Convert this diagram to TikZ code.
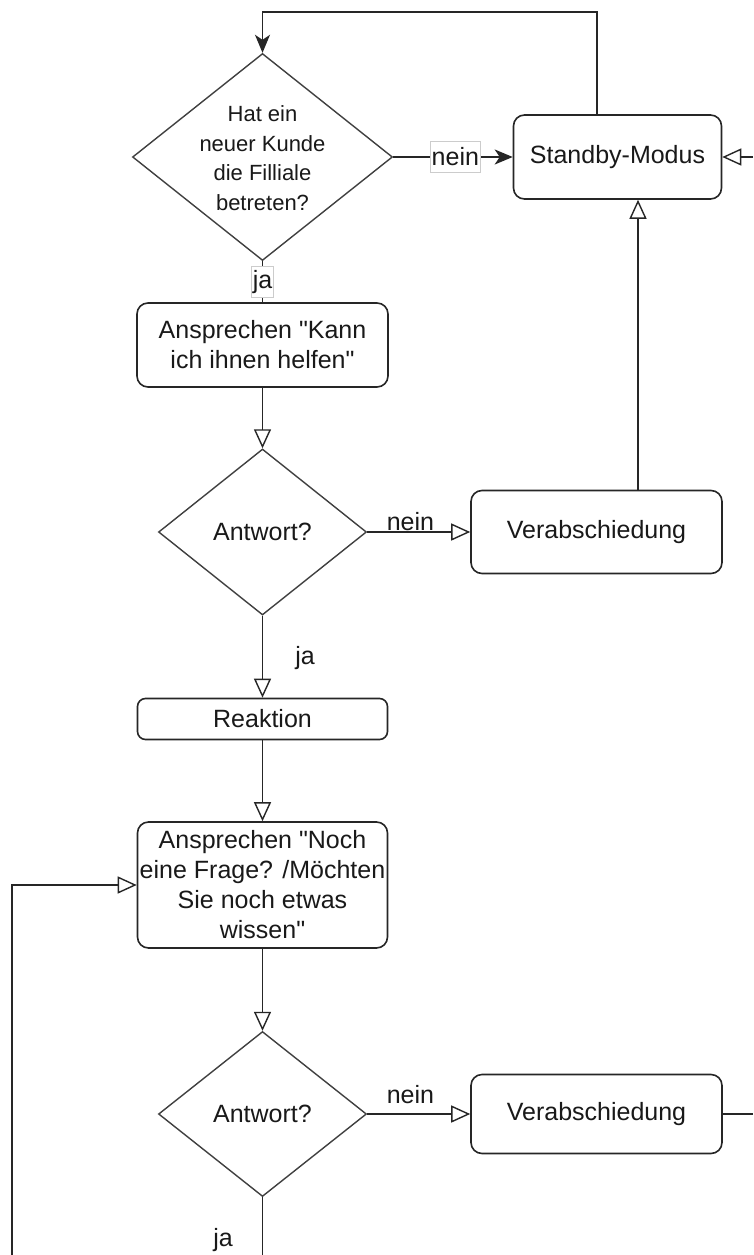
\documentclass[tikz,border=0pt]{standalone}
\usepackage{fontspec}
\setmainfont{Liberation Sans}[Ligatures=TeXOff]
\usetikzlibrary{shapes.geometric,arrows.meta}
\begin{document}
\begin{tikzpicture}[x=1pt,y=-1pt,
  txt/.style={font=\fontsize{25}{30}\selectfont, text=black!90},
  procbox/.style={txt, draw=black!85, line width=1.6pt, rounded corners=11pt, inner sep=0pt, align=center},
  decision/.style={diamond, draw=black!75, line width=1.4pt, inner sep=0pt},
  conn/.style={draw=black!85, line width=1.6pt},
  openarr/.style={conn, -{Triangle[length=19pt,width=17pt,fill=white,line width=1.4pt]}},
  fillarr/.style={conn, -{Stealth[length=18pt,width=15pt,inset=5pt]}},
  lbl/.style={txt, inner sep=0.5pt},
  lblbox/.style={txt, fill=white, draw=black!20, line width=0.8pt, inner xsep=1.5pt, inner ysep=0pt, minimum height=31pt}
]
\useasboundingbox (0,0) rectangle (753,1255);
\fill[white] (0,0) rectangle (753,1255);

% nodes
\node[decision, minimum width=260pt, minimum height=207pt] (d1) at (262.5,157) {};
\node[align=center, font=\fontsize{22}{29.5}\selectfont, text=black!90] (d1t) at (262.5,158) {Hat ein\\neuer Kunde\\die Filliale\\betreten?};
\node[procbox, minimum width=208pt, minimum height=84pt] (sb) at (617.5,157) {Standby-Modus};
\node[procbox, minimum width=251pt, minimum height=84pt] (b2) at (262.5,345) {Ansprechen "Kann\\ich ihnen helfen"};
\node[decision, minimum width=208pt, minimum height=166pt] (d2) at (262.5,532) {};
\node[txt] (d2t) at (262.5,532) {Antwort?};
\node[procbox, minimum width=251pt, minimum height=83pt] (v1) at (596.5,532) {Verabschiedung};
\node[procbox, rounded corners=8pt, minimum width=250pt, minimum height=41pt] (re) at (262.5,719) {Reaktion};
\node[procbox, minimum width=250pt, minimum height=126pt] (b4) at (262.5,885) {Ansprechen "Noch\\eine Frage? /Möchten\\Sie noch etwas\\wissen"};
\node[decision, minimum width=208pt, minimum height=165pt] (d3) at (262.5,1114) {};
\node[txt] (d3t) at (262.5,1114) {Antwort?};
\node[procbox, minimum width=251pt, minimum height=79pt] (v2) at (596.5,1114) {Verabschiedung};

% coordinates
\coordinate (tr) at (597,12);
\coordinate (tl) at (262.5,12);
\coordinate (rin) at (753,157);
\coordinate (vx) at (638,0);
\coordinate (lb) at (12,1255);
\coordinate (rout) at (753,1114);
\coordinate (bout) at (262.5,1255);

% connectors
\draw[fillarr] (sb.north -| tr) -- (tr) -- (tl) -- (d1.north);
\draw[fillarr] (d1.east) -- node[lblbox, pos=0.52] (n1) {nein} (sb.west);
\draw[openarr] (rin) -- (sb.east);
\draw[openarr] (v1.north -| vx) -- (sb.south -| vx);
\draw[conn] (d1.south) -- node[lblbox, pos=0.5] (j1) {ja} (b2.north);
\draw[openarr] (b2.south) -- (d2.north);
\draw[openarr] (d2.east) -- node[lbl, above, pos=0.42] (n2) {nein} (v1.west);
\draw[openarr] (d2.south) -- (re.north);
\node[lbl] (j2) at (305,658) {ja};
\draw[openarr] (re.south) -- (b4.north);
\draw[openarr] (lb) |- (b4.west);
\draw[openarr] (b4.south) -- (d3.north);
\draw[openarr] (d3.east) -- node[lbl, above=9pt, pos=0.42] (n3) {nein} (v2.west);
\draw[conn] (v2.east) -- (rout);
\draw[conn] (d3.south) -- (bout);
\node[lbl] (j3) at (223,1240) {ja};
\end{tikzpicture}
\end{document}
